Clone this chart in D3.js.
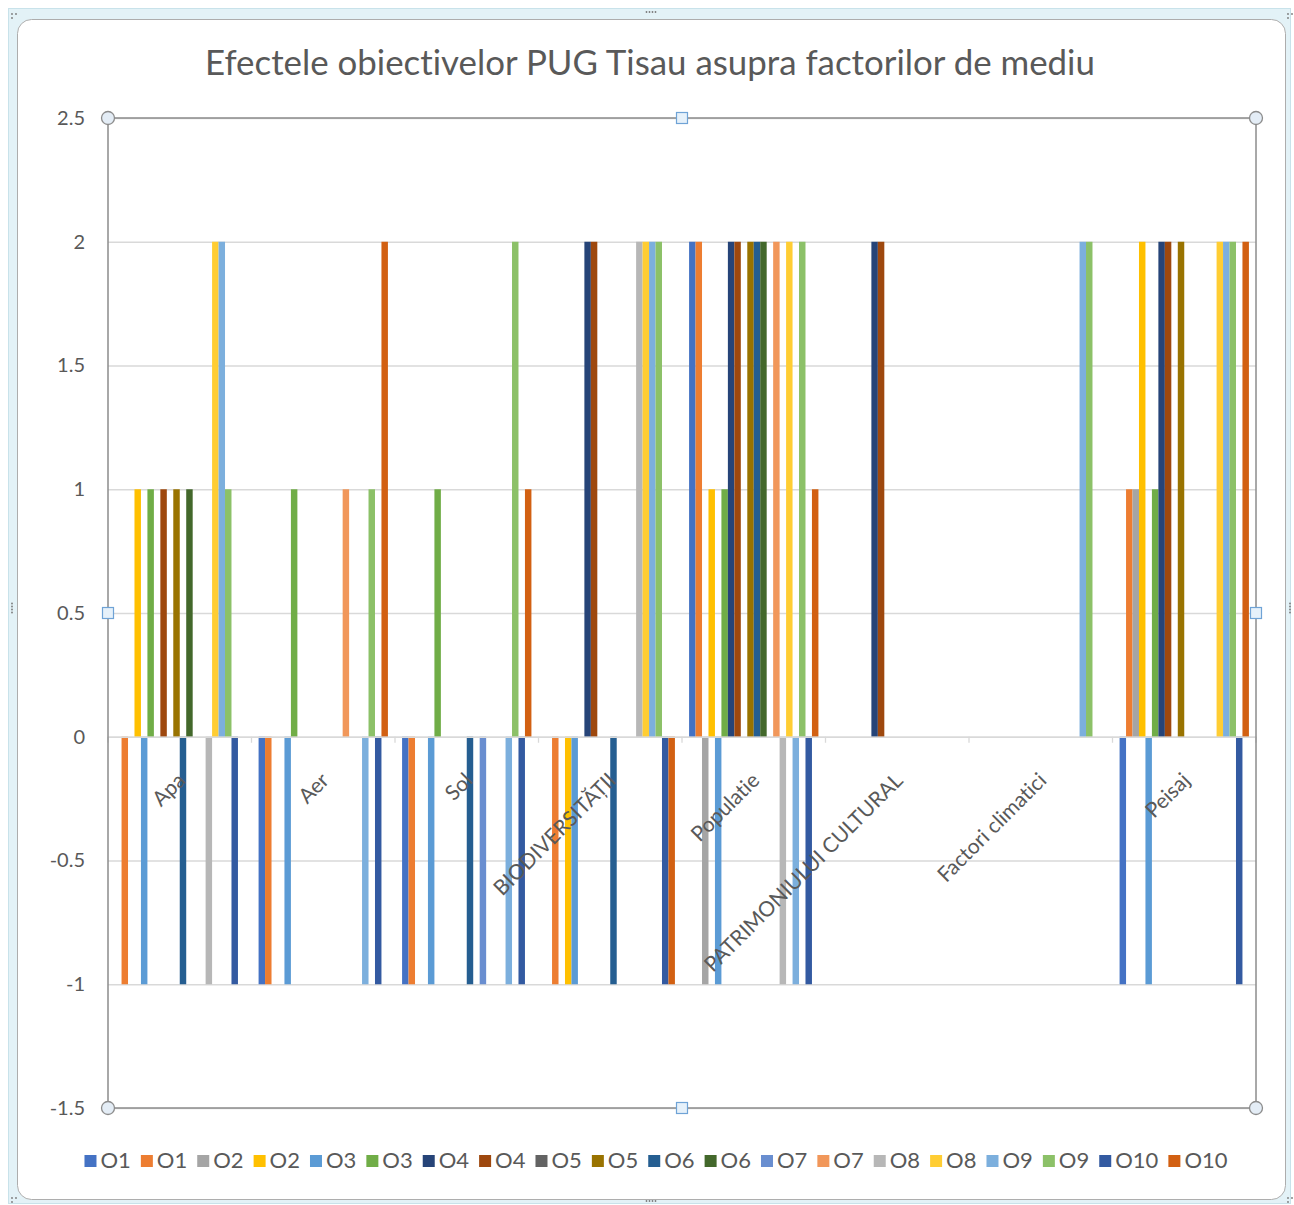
<!DOCTYPE html>
<html><head><meta charset="utf-8">
<script src="https://cdn.jsdelivr.net/npm/d3@7"></script>
<style>
body{margin:0;background:#fff}
svg{display:block}
text{font-family:Lato,"Open Sans","Noto Sans",sans-serif;font-variant-ligatures:none;font-feature-settings:"liga" 0}
</style>
</head><body>
<svg id="chart" width="1294" height="1205"></svg>
<script>
// ---- data ----
const categories = ["Apa","Aer","Sol","BIODIVERSITĂȚII","Populatie","PATRIMONIULUI CULTURAL","Factori climatici","Peisaj"];
const seriesNames = ["O1","O1","O2","O2","O3","O3","O4","O4","O5","O5","O6","O6","O7","O7","O8","O8","O9","O9","O10","O10"];
const seriesColors = ["#4472C4","#ED7D31","#A5A5A5","#FFC000","#5B9BD5","#70AD47","#264478","#9E480E","#636363","#997300",
                      "#255E91","#43682B","#698ED0","#F1975A","#B7B7B7","#FFCD33","#7CAFDD","#8CC168","#335AA1","#D26012"];
// values per category, one entry per series (in legend order)
const apa        = [ 0,-1, 0, 1,-1, 1, 0, 1, 0, 1,-1, 1, 0, 0,-1, 2, 2, 1,-1, 0];
const aer        = [-1,-1, 0, 0,-1, 1, 0, 0, 0, 0, 0, 0, 0, 1, 0, 0,-1, 1,-1, 2];
const sol        = [-1,-1, 0, 0,-1, 1, 0, 0, 0, 0,-1, 0,-1, 0, 0, 0,-1, 2,-1, 1];
const biodiv     = [ 0,-1, 0,-1,-1, 0, 2, 2, 0, 0,-1, 0, 0, 0, 2, 2, 2, 2,-1,-1];
const populatie  = [ 2, 2,-1, 1,-1, 1, 2, 2, 0, 2, 2, 2, 0, 2,-1, 2,-1, 2,-1, 1];
const patrimoniu = [ 0, 0, 0, 0, 0, 0, 2, 2, 0, 0, 0, 0, 0, 0, 0, 0, 0, 0, 0, 0];
const climatici  = [ 0, 0, 0, 0, 0, 0, 0, 0, 0, 0, 0, 0, 0, 0, 0, 0, 2, 2, 0, 0];
const peisaj     = [-1, 1, 1, 2,-1, 1, 2, 2, 0, 2, 0, 0, 0, 0, 0, 2, 2, 2,-1, 2];
const valuesByCategory = [apa, aer, sol, biodiv, populatie, patrimoniu, climatici, peisaj];
const yTicks = [-1.5,-1,-0.5,0,0.5,1,1.5,2,2.5];
const yTickLabels = ["-1.5","-1","-0.5","0","0.5","1","1.5","2","2.5"];
const titleText = "Efectele obiectivelor PUG Tisau asupra factorilor de mediu";

// ---- layout ----
const svg = d3.select("#chart");
const plot = {left:108, right:1256, top:118, bottom:1108};
const textColor = "#595959";

// selection frame of the chart object
svg.append("rect").attr("x",8.5).attr("y",8.5).attr("width",1282).attr("height",1195)
  .attr("fill","#E3F2F7").attr("stroke","#C8E2EA");
svg.append("rect").attr("x",17.5).attr("y",19.5).attr("width",1268).attr("height",1180).attr("rx",14)
  .attr("fill","#fff").attr("stroke","#ADADAD");
// grip dots
const dots = [];
[[651,12],[651,1201]].forEach(([cx,cy])=>{for(let i=-3;i<=3;i+=2)dots.push([cx+i*1.5,cy]);});
[[12,608],[1290,608]].forEach(([cx,cy])=>{for(let i=-3;i<=3;i+=2)dots.push([cx,cy+i*1.5]);});
[[12,14],[1288,14],[12,1198],[1288,1198]].forEach(([cx,cy])=>{dots.push([cx,cy],[cx+4,cy],[cx,cy+4]);});
svg.append("g").selectAll("circle").data(dots).join("circle")
  .attr("cx",d=>d[0]).attr("cy",d=>d[1]).attr("r",0.9).attr("fill","#7a7a7a");

// title
const title = svg.append("text").attr("x",650).attr("y",75).attr("text-anchor","middle")
  .attr("fill",textColor).style("font-size","30px").text(titleText);
const tl = title.node().getComputedTextLength();
title.style("font-size", (30*890/tl).toFixed(2)+"px");

// scales
const x0 = d3.scaleBand().domain(categories).range([plot.left, plot.right])
  .paddingInner(2.19/22.19).paddingOuter(2.19/22.19/2);
const x1 = d3.scaleBand().domain(d3.range(seriesNames.length)).range([0, x0.bandwidth()]);
const y = d3.scaleLinear().domain([-1.5,2.5]).range([plot.bottom, plot.top]);
const step = x0.step();

// gridlines + y labels
const yAxis = d3.axisLeft(y).tickValues(yTicks).tickSize(-(plot.right-plot.left)).tickPadding(23)
  .tickFormat(d=>yTickLabels[yTicks.indexOf(d)]);
const gy = svg.append("g").attr("transform",`translate(${plot.left},0)`).call(yAxis);
gy.select(".domain").remove();
gy.selectAll("line").attr("stroke","#D9D9D9").attr("stroke-width",1.3);
gy.selectAll("text").attr("fill",textColor).style("font-size","20px").style("font-family","Lato,'Open Sans',sans-serif");

// bars
const barData = [];
categories.forEach((c,ci)=>valuesByCategory[ci].forEach((v,si)=>{ if(v!==0) barData.push({c,si,v}); }));
svg.append("g").selectAll("rect").data(barData).join("rect")
  .attr("x",d=>x0(d.c)+x1(d.si))
  .attr("width",x1.bandwidth())
  .attr("y",d=>y(Math.max(0,d.v)))
  .attr("height",d=>Math.abs(y(d.v)-y(0)))
  .attr("fill",d=>seriesColors[d.si]);

// category axis at zero
const gx = svg.append("g").attr("transform",`translate(0,${y(0)})`)
  .call(d3.axisBottom(x0).tickSize(0).tickFormat(""));
gx.select(".domain").attr("stroke","#D9D9D9").attr("stroke-width",1.3);
const bounds = d3.range(categories.length+1).map(i=>plot.left+i*step);
gx.append("g").selectAll("line").data(bounds).join("line")
  .attr("x1",d=>d).attr("x2",d=>d).attr("y1",0).attr("y2",6)
  .attr("stroke","#D9D9D9").attr("stroke-width",1.3);
gx.append("g").selectAll("text").data(categories).join("text")
  .attr("transform",d=>`translate(${x0(d)-x0.paddingOuter()*step+step/2+7},45) rotate(-45)`)
  .attr("text-anchor","end").attr("fill",textColor).style("font-size","21px").text(d=>d);

// plot area border with selection handles
svg.append("rect").attr("x",plot.left).attr("y",plot.top)
  .attr("width",plot.right-plot.left).attr("height",plot.bottom-plot.top)
  .attr("fill","none").attr("stroke","#8C8C8C").attr("stroke-width",1.5);
const corners = [[plot.left,plot.top],[plot.right,plot.top],[plot.left,plot.bottom],[plot.right,plot.bottom]];
svg.append("g").selectAll("circle").data(corners).join("circle")
  .attr("cx",d=>d[0]).attr("cy",d=>d[1]).attr("r",6.5)
  .attr("fill","#E4EDF6").attr("stroke","#8C8C8C").attr("stroke-width",1.3);
const mids = [[(plot.left+plot.right)/2,plot.top],[(plot.left+plot.right)/2,plot.bottom],
              [plot.left,(plot.top+plot.bottom)/2],[plot.right,(plot.top+plot.bottom)/2]];
svg.append("g").selectAll("rect").data(mids).join("rect")
  .attr("x",d=>d[0]-5.5).attr("y",d=>d[1]-5.5).attr("width",11).attr("height",11)
  .attr("fill","#E6F1FA").attr("stroke","#6FA3D6").attr("stroke-width",1.2);

// legend
const lg = svg.append("g");
const items = lg.selectAll("g").data(seriesNames).join("g");
items.append("rect").attr("width",12).attr("height",12).attr("y",-13).attr("fill",(d,i)=>seriesColors[i]);
items.append("text").attr("x",16).attr("y",0).attr("fill",textColor).style("font-size","22px").text(d=>d);
let xpos = 0;
const positions = [];
items.each(function(d,i){
  const w = d3.select(this).select("text").node().getComputedTextLength();
  positions.push(xpos);
  xpos += 16 + w + 10;
});
const total = xpos - 10;
const startX = 656 - total/2;
items.attr("transform",(d,i)=>`translate(${startX+positions[i]},1168)`);
</script>
</body></html>
